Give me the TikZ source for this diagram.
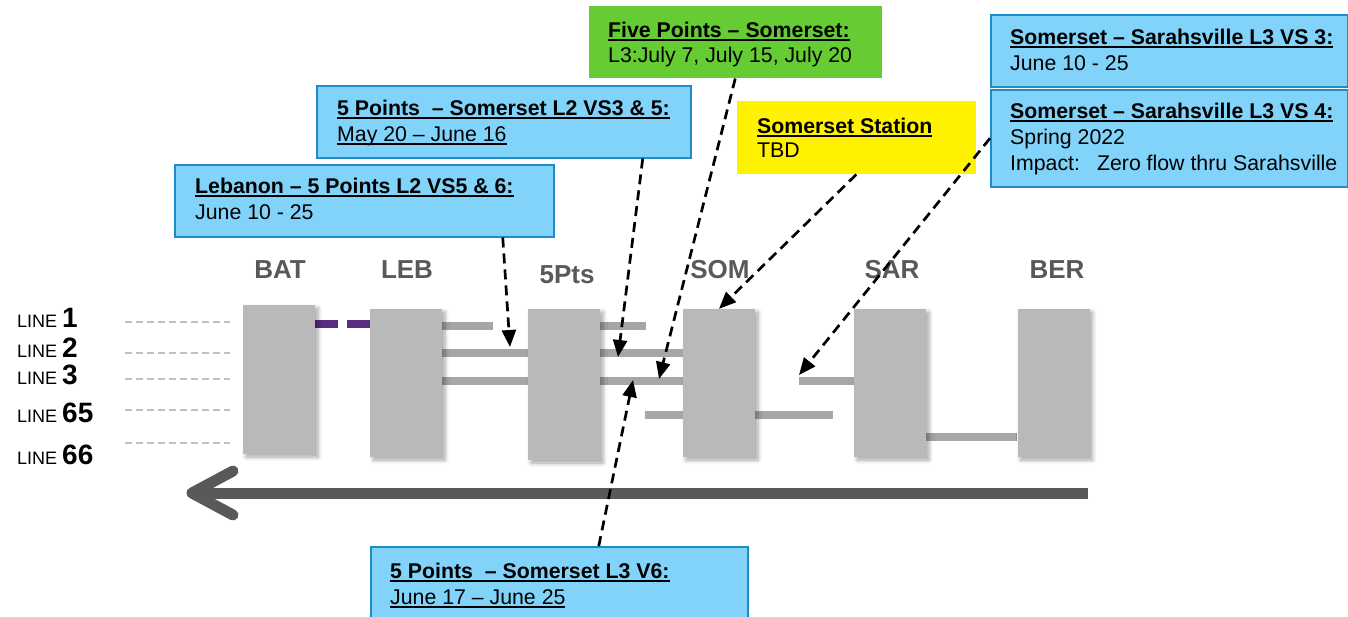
\documentclass[tikz,border=0pt]{standalone}
\usepackage{fontspec}
\setmainfont{Liberation Sans}
\usepackage{xcolor}
\usetikzlibrary{arrows.meta}
\usetikzlibrary{backgrounds}
\usetikzlibrary{shadows.blur}

\definecolor{notefill}{RGB}{130,211,250}
\definecolor{noteedge}{RGB}{30,140,200}
\definecolor{greennote}{RGB}{102,204,51}
\definecolor{stgray}{RGB}{185,185,185}
\definecolor{linegray}{RGB}{166,166,166}
\definecolor{labelgray}{RGB}{89,89,89}
\definecolor{guidegray}{RGB}{191,191,191}
\definecolor{batpurple}{RGB}{91,44,131}

\newcommand{\ulined}[1]{\setbox0=\hbox{#1}\rlap{\vrule height -1.5pt depth 3.3pt width \wd0}\box0}

\tikzset{
  station/.style={fill=stgray, minimum width=72pt, minimum height=148pt, inner sep=0pt,
    blur shadow={shadow xshift=3pt, shadow yshift=-3pt, shadow blur steps=6, shadow blur radius=4pt, shadow opacity=35}},
  stlabel/.style={text=labelgray, inner sep=0pt, font=\fontsize{26}{30}\selectfont\bfseries},
  note/.style={draw=noteedge, fill=notefill, line width=1.5pt, inner sep=0pt, anchor=north west},
  notetext/.style={align=left, inner sep=0pt, anchor=north west, font=\fontsize{21.3}{26}\selectfont},
  track/.style={draw=linegray, line width=8pt},
  callout/.style={draw=black, line width=2.7pt, dash pattern=on 10pt off 6pt, -{Triangle[length=17pt,width=14pt]}},
  guide/.style={draw=guidegray, line width=2pt, dash pattern=on 7pt off 4pt},
  flow/.style={draw=labelgray, line width=11pt},
}

\begin{document}
\begin{tikzpicture}[x=1pt,y=-1pt]
\useasboundingbox (0,0) rectangle (1348,616);

% stations
\node[station, minimum height=149pt] (bat) at (279,379.5) {};
\node[station] (leb) at (406,383) {};
\node[station, minimum height=151pt] (fpts) at (564,384.5) {};
\node[station] (som) at (719,383) {};
\node[station] (sar) at (890,383) {};
\node[station] (ber) at (1053.5,383) {};

\node[stlabel] (batname) at (280,270) {BAT};
\node[stlabel] (lebname) at (407,270) {LEB};
\node[stlabel] (fptsname) at (567,275) {5Pts};
\node[stlabel] (somname) at (720,270) {SOM};
\node[stlabel] (sarname) at (892,270) {SAR};
\node[stlabel] (bername) at (1057,270) {BER};

% tracks between stations
\begin{scope}[on background layer]
  \draw[track] (leb.east |- 0,326) -- (493,326);
  \draw[track] (fpts.east |- 0,326) -- (646,326);
  \draw[track] (leb.east |- 0,353) -- (fpts.west |- 0,353);
  \draw[track] (fpts.east |- 0,353) -- (som.west |- 0,353);
  \draw[track] (leb.east |- 0,381) -- (fpts.west |- 0,381);
  \draw[track] (fpts.east |- 0,381) -- (som.west |- 0,381);
  \coordinate (sarthree) at (799,381);
  \draw[track] (sarthree) -- (sar.west |- sarthree);
  \draw[track] (645,415) -- (som.west |- 0,415);
  \draw[track] (som.east |- 0,415) -- (833,415);
  \draw[track] (sar.east |- 0,437) -- (ber.west |- 0,437);
  \draw[batpurple, line width=8pt, dash pattern=on 23pt off 9pt] (bat.east |- 0,324) -- (leb.west |- 0,324);
\end{scope}

% line labels
\foreach \num/\yb in {1/327, 2/357, 3/384, 65/422, 66/464}
  \node[anchor=base west, inner sep=0pt] (line\num) at (17,\yb)
    {\fontsize{18}{20}\selectfont LINE \fontsize{28}{30}\selectfont\bfseries\num};
\foreach \yg in {322,353,379,410,443}
  \draw[guide] (125,\yg) -- (230,\yg);

% flow direction
\coordinate (flowstart) at (1088,493);
\coordinate (flowend) at (192,493);
\draw[flow] (flowstart) -- (flowend);
\draw[flow, line cap=round, line join=round] (233,471) -- (flowend) -- (233,515);

% notes
\node[note, fill=greennote, draw=none, minimum width=293pt, minimum height=72pt] (fivesom) at (588,5) {};
\node[notetext] (fivesomtext) at (608,21.6)
  {\ulined{\bfseries Five Points -- Somerset:}\\[-1pt]L3:July 7, July 15, July 20};

\node[note, fill=yellow, draw=none, minimum width=239pt, minimum height=73pt] (somnote) at (736,100) {};
\node[notetext] (somnotetext) at (757,117.6)
  {\ulined{\bfseries Somerset Station}\\[-2pt]TBD};

\node[note, minimum width=374pt, minimum height=72pt] (ltwonote) at (316,85) {};
\node[notetext] (ltwotext) at (337,99.6)
  {\ulined{\bfseries 5 Points\ \ -- Somerset L2 VS3 \& 5:}\\\ulined{May 20 -- June 16}};

\node[note, minimum width=379pt, minimum height=72pt] (lebnote) at (174,164) {};
\node[notetext] (lebnotetext) at (195,177.6)
  {\ulined{\bfseries Lebanon -- 5 Points L2 VS5 \& 6:}\\June 10 - 25};

\node[note, minimum width=357pt, minimum height=72pt] (sarnote) at (990,14) {};
\node[notetext] (sarnotetext) at (1010,28.6)
  {\ulined{\bfseries Somerset -- Sarahsville L3 VS 3:}\\June 10 - 25};

\node[note, minimum width=357pt, minimum height=97pt] (sarfour) at (990,89) {};
\node[notetext] (sarfourtext) at (1010,102.6)
  {\ulined{\bfseries Somerset -- Sarahsville L3 VS 4:}\\Spring 2022\\Impact:\hspace{17pt}Zero flow thru Sarahsville};

\node[note, minimum width=377pt, minimum height=90pt] (vsixnote) at (370,546) {};
\node[notetext] (vsixtext) at (390,562.6)
  {\ulined{\bfseries 5 Points\ \ -- Somerset L3 V6:}\\\ulined{June 17 -- June 25}};

% callouts
\coordinate (tipa) at (510,347);
\coordinate (tipb) at (618,357);
\coordinate (tipc) at (659,379);
\coordinate (tipd) at (633,380);
\coordinate (tipf) at (799,375);
\draw[callout] ([xshift=138.5pt]lebnote.south) -- (tipa);
\draw[callout] ([xshift=139pt]ltwonote.south) -- (tipb);
\draw[callout] (fivesom.south) -- (tipc);
\draw[callout] ([xshift=39.5pt]vsixnote.north) -- (tipd);
\draw[callout] (somnote.south) -- (som.north);
\draw[callout] (sarfour.west) -- (tipf);
\end{tikzpicture}
\end{document}
